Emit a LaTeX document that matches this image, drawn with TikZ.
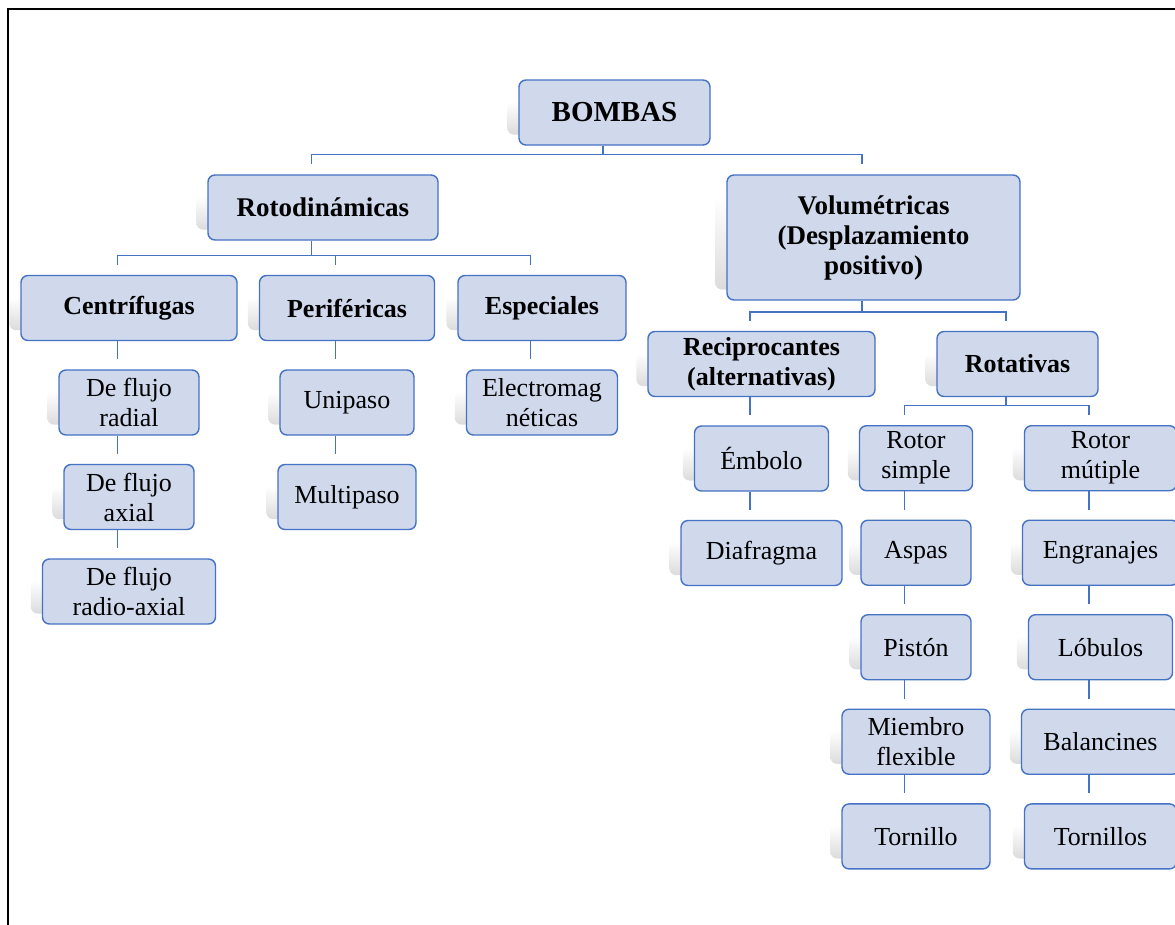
\documentclass[tikz,border=0pt]{standalone}
\usepackage{fontspec}
\setmainfont{Liberation Serif}
\definecolor{boxfill}{HTML}{D0D8EC}
\definecolor{boxline}{HTML}{4472C4}
\pgfdeclarelayer{bg}
\pgfsetlayers{bg,main}
\tikzset{
  box/.style={draw=boxline, line width=1.4pt, fill=boxfill, rounded corners=7pt,
    align=center, inner sep=0pt, text=black, minimum height=65pt,
    font=\fontsize{26}{30}\selectfont},
  boldbox/.style={box, font=\fontsize{26}{30}\selectfont\bfseries},
  topbox/.style={box, font=\fontsize{27}{30}\selectfont\bfseries},
  conn/.style={draw=boxline, line width=1.3pt},
  shadowbox/.style={top color=white, bottom color=black!14, rounded corners=7pt, draw=none}
}
\begin{document}
\begin{tikzpicture}[x=1pt,y=-1pt]
\useasboundingbox (0,0) rectangle (1175,924);

% nodes
\node[box, minimum width=191pt, font=\fontsize{29}{32}\selectfont\bfseries] (bombas) at (614.5,112.5) {BOMBAS};
\node[topbox, minimum width=230pt] (roto) at (323,207.5) {Rotodinámicas};
\node[topbox, minimum width=293pt, minimum height=125pt] (vol) at (873.5,237.5) {Volumétricas\\(Desplazamiento\\positivo)};

\node[boldbox, minimum width=216pt] (cent) at (129,308) {Centrífugas};
\node[boldbox, minimum width=175pt] (peri) at (347,308) {Periféricas};
\node[boldbox, minimum width=168pt] (espe) at (542,308) {Especiales};

\node[box, minimum width=140pt] (radial) at (129,402.5) {De flujo\\radial};
\node[box, minimum width=130pt] (axial) at (129,497) {De flujo\\axial};
\node[box, minimum width=173pt] (radioaxial) at (129,591.5) {De flujo\\radio-axial};
\node[box, minimum width=134pt] (unipaso) at (347,402.5) {Unipaso};
\node[box, minimum width=138pt] (multipaso) at (347,497) {Multipaso};
\node[box, minimum width=151pt] (electro) at (542,402.5) {Electromag\\néticas};

\node[boldbox, minimum width=227pt] (recip) at (761.5,364) {Reciprocantes\\(alternativas)};
\node[boldbox, minimum width=161pt] (rotat) at (1017.5,364) {Rotativas};

\node[box, minimum width=134pt] (embolo) at (761.5,458.5) {Émbolo};
\node[box, minimum width=161pt] (diafragma) at (761.5,553) {Diafragma};

\node[box, minimum width=113pt] (rsimple) at (916,458.2) {Rotor\\simple};
\node[box, minimum width=110pt] (aspas) at (916,552.7) {Aspas};
\node[box, minimum width=110pt] (piston) at (916,647.2) {Pistón};
\node[box, minimum width=148pt] (miembro) at (916,741.7) {Miembro\\flexible};
\node[box, minimum width=148pt] (tornillo) at (916,836.4) {Tornillo};

\node[box, minimum width=152pt] (rmult) at (1100.5,458.2) {Rotor\\mútiple};
\node[box, minimum width=156pt] (engranajes) at (1100.5,552.7) {Engranajes};
\node[box, minimum width=144pt] (lobulos) at (1100.5,647.2) {Lóbulos};
\node[box, minimum width=158pt] (balancines) at (1100.5,741.7) {Balancines};
\node[box, minimum width=152pt] (tornillos) at (1100.5,836.4) {Tornillos};

\foreach \n in {bombas,roto,vol,cent,peri,espe,radial,axial,radioaxial,unipaso,multipaso,electro,recip,rotat,embolo,diafragma,rsimple,aspas,piston,miembro,tornillo,rmult,engranajes,lobulos,balancines,tornillos}{
  \coordinate (\n S) at ([xshift=-11.5pt]\n.south);
  \coordinate (\n T) at ([xshift=-11.5pt,yshift=10pt]\n.north);
}
\coordinate (bar0) at (0,154.5);
\coordinate (bar1) at (0,255.7);
\coordinate (bar2) at (0,312);
\coordinate (bar3) at (0,405.7);

\begin{pgfonlayer}{bg}
\fill[white] (0,0) rectangle (1175,924);
\draw[line width=1.5pt, black] (8,930) -- (8,9) -- (1180,9);
\foreach \n in {bombas,roto,vol,cent,peri,espe,radial,axial,radioaxial,unipaso,multipaso,electro,recip,rotat,embolo,diafragma,rsimple,aspas,piston,miembro,tornillo,rmult,engranajes,lobulos,balancines,tornillos}{
  \shade[shadowbox] ([xshift=-11pt,yshift=-22pt]\n.north west) rectangle ([xshift=-11pt,yshift=11pt]\n.south east);
}
% level 0 -> 1
\draw[conn] (bombasS) -- (bombasS |- bar0);
\draw[conn] (rotoT) -- (rotoT |- bar0) -- (volT |- bar0) -- (volT);
% roto -> children
\draw[conn] (rotoS) -- (rotoS |- bar1);
\draw[conn] (centT) -- (centT |- bar1) -- (espeT |- bar1) -- (espeT);
\draw[conn] (periT) -- (periT |- bar1);
% vol -> children
\draw[conn] (volS) -- (volS |- bar2);
\draw[conn] (recipT) -- (recipT |- bar2) -- (rotatT |- bar2) -- (rotatT);
% rotativas -> children
\draw[conn] (rotatS) -- (rotatS |- bar3);
\draw[conn] (rsimpleT) -- (rsimpleT |- bar3) -- (rmultT |- bar3) -- (rmultT);
% chains
\draw[conn] (centS) -- (radialT);
\draw[conn] (radialS) -- (axialT);
\draw[conn] (axialS) -- (radioaxialT);
\draw[conn] (periS) -- (unipasoT);
\draw[conn] (unipasoS) -- (multipasoT);
\draw[conn] (espeS) -- (electroT);
\draw[conn] (recipS) -- (emboloT);
\draw[conn] (emboloS) -- (diafragmaT);
\draw[conn] (rsimpleS) -- (aspasT);
\draw[conn] (aspasS) -- (pistonT);
\draw[conn] (pistonS) -- (miembroT);
\draw[conn] (miembroS) -- (tornilloT);
\draw[conn] (rmultS) -- (engranajesT);
\draw[conn] (engranajesS) -- (lobulosT);
\draw[conn] (lobulosS) -- (balancinesT);
\draw[conn] (balancinesS) -- (tornillosT);
\end{pgfonlayer}
\end{tikzpicture}
\end{document}
